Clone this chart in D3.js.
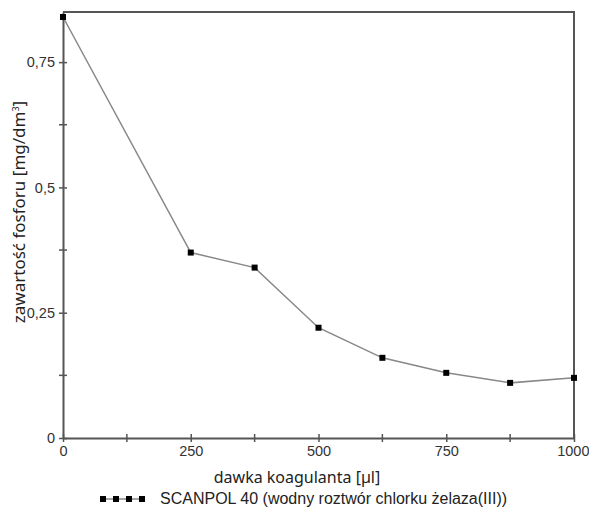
<!DOCTYPE html>
<html>
<head>
<meta charset="utf-8">
<script src="https://cdn.jsdelivr.net/npm/d3@7"></script>
<style>
  body { margin: 0; background: #fff; }
  svg { display: block; }
</style>
</head>
<body>
<div id="chart"></div>
<script>
// Dose of coagulant [µl] and phosphorus content [mg/dm3].
const doses = [0, 250, 375, 500, 625, 750, 875, 1000];
const phosphorus = [0.84, 0.37, 0.34, 0.22, 0.16, 0.13, 0.11, 0.12];
const xTickValues = [0, 250, 500, 750, 1000];
const xMinorTicks = [125, 375, 625, 875];
const yTickValues = [0, 0.25, 0.5, 0.75];
const yMinorTicks = [0.125, 0.375, 0.625];
const seriesName = "SCANPOL 40 (wodny roztwór chlorku żelaza(III))";

const width = 589;
const height = 507;
const margin = { top: 12, right: 15, bottom: 69, left: 63 };

const svg = d3.select("#chart")
    .append("svg")
    .attr("width", width)
    .attr("height", height);

const xScale = d3.scaleLinear()
    .domain([0, 1000])
    .range([margin.left, width - margin.right]);

const yScale = d3.scaleLinear()
    .domain([0, 0.85])
    .range([height - margin.bottom, margin.top]);

const axisColor = "#555";
const tickFont = "'Liberation Sans', Arial, sans-serif";
const titleFont = "'Noto Sans', 'Open Sans', sans-serif";
const fmt = d => d3.format("~g")(d).replace(".", ",");

// Frame: top and right borders.
svg.append("path")
    .attr("d", `M${margin.left},${margin.top}H${width - margin.right}V${height - margin.bottom}`)
    .attr("fill", "none")
    .attr("stroke", axisColor)
    .attr("stroke-width", 2);

// Bottom axis with crossing ticks.
const xAxis = svg.append("g")
    .attr("transform", `translate(0, ${height - margin.bottom})`)
    .call(d3.axisBottom(xScale).tickValues(xTickValues).tickFormat(fmt).tickSizeInner(4).tickSizeOuter(0).tickPadding(4));
xAxis.selectAll("line").attr("y1", -4);
// the last label sits against the page edge, as in the original
xAxis.selectAll(".tick text").filter(d => d === 1000).attr("text-anchor", "end").attr("dx", 15);
svg.append("g")
    .selectAll("line")
    .data(xMinorTicks)
    .enter()
    .append("line")
    .attr("x1", d => xScale(d))
    .attr("x2", d => xScale(d))
    .attr("y1", height - margin.bottom - 4)
    .attr("y2", height - margin.bottom + 4)
    .attr("stroke", axisColor)
    .attr("stroke-width", 1.5);

// Left axis with crossing ticks.
const yAxis = svg.append("g")
    .attr("transform", `translate(${margin.left}, 0)`)
    .call(d3.axisLeft(yScale).tickValues(yTickValues).tickFormat(fmt).tickSizeInner(4).tickSizeOuter(0).tickPadding(4));
yAxis.selectAll("line").attr("x1", 4);
svg.append("g")
    .selectAll("line")
    .data(yMinorTicks)
    .enter()
    .append("line")
    .attr("x1", margin.left - 4)
    .attr("x2", margin.left + 4)
    .attr("y1", d => yScale(d))
    .attr("y2", d => yScale(d))
    .attr("stroke", axisColor)
    .attr("stroke-width", 1.5);

[xAxis, yAxis].forEach(function(g) {
    g.select(".domain").attr("stroke", axisColor).attr("stroke-width", 2);
    g.selectAll(".tick line").attr("stroke", axisColor).attr("stroke-width", 1.5);
    g.selectAll("text")
        .attr("fill", "#333")
        .style("font-family", tickFont)
        .style("font-size", "14.5px");
});

// Data line and square markers.
const points = doses.map((d, i) => ({ x: d, y: phosphorus[i] }));
svg.append("path")
    .datum(points)
    .attr("fill", "none")
    .attr("stroke", "#888")
    .attr("stroke-width", 1.5)
    .attr("d", d3.line().x(d => xScale(d.x)).y(d => yScale(d.y)));

svg.selectAll(".marker")
    .data(points)
    .enter()
    .append("rect")
    .attr("class", "marker")
    .attr("x", d => xScale(d.x) - 3)
    .attr("y", d => yScale(d.y) - 3)
    .attr("width", 6)
    .attr("height", 6)
    .attr("fill", "#000");

// Axis titles.
svg.append("text")
    .attr("x", 297)
    .attr("y", 483)
    .attr("text-anchor", "middle")
    .attr("fill", "#222")
    .style("font-family", titleFont)
    .style("font-size", "16px")
    .text("dawka koagulanta [µl]");

const yTitle = svg.append("text")
    .attr("transform", "translate(25, 212) rotate(-90)")
    .attr("text-anchor", "middle")
    .attr("fill", "#222")
    .style("font-family", titleFont)
    .style("font-size", "17px");
yTitle.append("tspan").text("zawartość fosforu [mg/dm");
yTitle.append("tspan").attr("dy", -6).style("font-size", "9px").text("3");
yTitle.append("tspan").attr("dy", 6).text("]");

// Legend.
const legendY = 499;
const legendX = [103, 116, 129, 142];
svg.append("line")
    .attr("x1", legendX[0])
    .attr("x2", legendX[legendX.length - 1])
    .attr("y1", legendY)
    .attr("y2", legendY)
    .attr("stroke", "#888")
    .attr("stroke-width", 1.5);
svg.selectAll(".legend-marker")
    .data(legendX)
    .enter()
    .append("rect")
    .attr("class", "legend-marker")
    .attr("x", d => d - 3)
    .attr("y", legendY - 3)
    .attr("width", 6)
    .attr("height", 6)
    .attr("fill", "#000");
svg.append("text")
    .attr("x", 160)
    .attr("y", legendY + 5)
    .attr("fill", "#222")
    .style("font-family", tickFont)
    .style("font-size", "16px")
    .text(seriesName);
</script>
</body>
</html>
